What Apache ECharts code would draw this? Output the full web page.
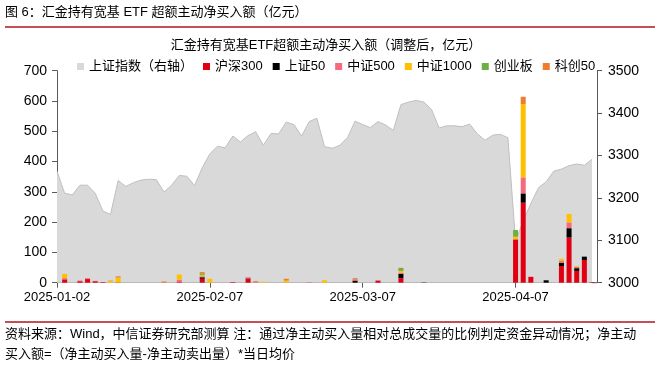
<!DOCTYPE html>
<html>
<head>
<meta charset="utf-8">
<script src="https://cdn.jsdelivr.net/npm/echarts@6/dist/echarts.min.js"></script>
<style>html,body{margin:0;padding:0;background:#fff;}#c{width:659px;height:367px;}</style>
</head>
<body>
<div id="c"></div>
<script>
// Trading-day categories
var dates = [
'2025-01-02','2025-01-03','2025-01-06','2025-01-07','2025-01-08','2025-01-09','2025-01-10',
'2025-01-13','2025-01-14','2025-01-15','2025-01-16','2025-01-17',
'2025-01-20','2025-01-21','2025-01-22','2025-01-23','2025-01-24',
'2025-01-27','2025-02-05','2025-02-06','2025-02-07',
'2025-02-10','2025-02-11','2025-02-12','2025-02-13','2025-02-14',
'2025-02-17','2025-02-18','2025-02-19','2025-02-20','2025-02-21',
'2025-02-24','2025-02-25','2025-02-26','2025-02-27','2025-02-28',
'2025-03-03','2025-03-04','2025-03-05','2025-03-06','2025-03-07',
'2025-03-10','2025-03-11','2025-03-12','2025-03-13','2025-03-14',
'2025-03-17','2025-03-18','2025-03-19','2025-03-20','2025-03-21',
'2025-03-24','2025-03-25','2025-03-26','2025-03-27','2025-03-28',
'2025-03-31','2025-04-01','2025-04-02','2025-04-03','2025-04-07',
'2025-04-08','2025-04-09','2025-04-10','2025-04-11',
'2025-04-14','2025-04-15','2025-04-16','2025-04-17','2025-04-18',
'2025-04-21'
];
// 上证指数 (right axis)
var sse = [
3263,3211,3207,3230,3230,3211,3169,
3161,3241,3227,3236,3242,
3244,3243,3214,3230,3253,
3251,3229,3271,3304,
3322,3318,3346,3332,3347,
3356,3324,3352,3351,3379,
3373,3346,3380,3388,3321,
3317,3324,3342,3381,3373,
3366,3380,3372,3359,3420,
3426,3430,3426,3409,3365,
3370,3370,3368,3374,3351,
3336,3348,3350,3342,3097,
3146,3187,3224,3238,
3263,3268,3276,3280,3277,
3291
];
// 沪深300
var hs300 = [
0,11,0,5,12,5,2,
0,1,0,0,0,
0,0,0,0,2,
0,0,13,0,
0,0,2,0,12,
0,0,0,0,0,
0,0,0,0,0,
0,0,0,0,0,
0,7,0,0,15,
0,0,0,0,0,
0,0,0,0,0,
0,0,0,0,143,
264,19,0,0,
0,55,149,39,75,
2
];
// 上证50
var sz50 = [
0,0,0,0,0,0,0,
0,0,0,0,0,
0,0,0,0,0,
0,0,5,0,
0,0,0,0,2,
0,0,0,0,0,
0,0,0,0,0,
0,0,0,7,0,
0,0,0,0,14,
0,0,1,0,0,
0,0,0,0,0,
0,0,0,0,0,
31,0,0,8,
0,11,31,9,11,
0
];
// 中证500
var zz500 = [
0,4,0,2,3,1,0,
0,0,0,0,0,
0,0,0,0,8,
0,0,3,0,
0,0,0,0,4,
2,0,0,0,0,
0,0,2,0,0,
0,0,0,4,0,
0,0,0,0,4,
0,0,0,0,0,
0,0,0,0,0,
0,0,0,0,0,
53,1,0,0,
0,6,19,4,0,
0
];
// 中证1000
var zz1000 = [
0,14,0,0,0,0,0,
6,16,0,0,0,
0,0,0,0,17,
0,0,5,13,
0,0,0,0,0,
0,3,0,0,7,
0,0,0,0,8,
0,0,0,0,0,
0,0,0,0,6,
0,0,0,0,0,
0,0,0,0,0,
0,0,0,0,9,
242,0,0,0,
0,7,28,3,0,
0
];
// 创业板
var cyb = [
0,0,0,0,0,0,0,
0,0,0,0,0,
0,0,0,0,0,
0,0,5,0,
0,0,0,0,0,
0,0,0,0,0,
0,0,0,0,0,
0,0,0,0,0,
0,0,0,0,10,
0,0,0,0,0,
0,0,0,0,0,
0,0,0,0,22,
0,0,0,0,
0,0,0,0,0,
0
];
// 科创50
var kc50 = [
0,0,0,0,0,0,0,
1,4,0,0,0,
0,0,4,0,0,
0,0,4,0,
0,0,0,0,0,
3,0,0,0,6,
0,0,0,0,0,
0,0,0,4,0,
0,0,0,0,0,
0,0,0,0,0,
0,0,0,0,0,
0,0,0,0,0,
24,0,0,0,
0,0,0,0,0,
0
];
var leftTicks = {min:0, max:700, interval:100};
var rightTicks = {min:3000, max:3500, interval:100};

var FONT = '"Liberation Sans","Noto Sans CJK SC",sans-serif';
var barNames = ['沪深300','上证50','中证500','中证1000','创业板','科创50'];
var barData = [hs300, sz50, zz500, zz1000, cyb, kc50];
var barColors = ['#E00012','#000000','#F56A7C','#FFC000','#70AD47','#ED7D31'];

var series = [{
  name:'上证指数（右轴）', type:'line', yAxisIndex:1, data:sse, symbol:'none',
  lineStyle:{color:'#BFBFBF', width:1}, itemStyle:{color:'#D9D9D9'},
  areaStyle:{color:'#D9D9D9', opacity:1, origin:'start'}, z:1, silent:true
}];
barNames.forEach(function(n,i){
  series.push({name:n, type:'bar', stack:'t', yAxisIndex:0, data:barData[i], barWidth:5,
    itemStyle:{color:barColors[i]}, z:3});
});

var axisStyle = {lineStyle:{color:'#595959', width:1}};
var chart = echarts.init(document.getElementById('c'));
chart.setOption({
  animation:false,
  textStyle:{fontFamily:FONT},
  grid:{left:57, right:67, top:70.7, bottom:84.3},
  legend:{
    data:['上证指数（右轴）'].concat(barNames), left:72, top:55, icon:'rect',
    itemWidth:7, itemHeight:7, itemGap:10,
    textStyle:{fontSize:13, color:'#000', fontFamily:FONT}
  },
  xAxis:{
    type:'category', data:dates, boundaryGap:false,
    axisLine:axisStyle,
    axisTick:{interval:19, length:5, lineStyle:{color:'#595959'}},
    axisLabel:{interval:19, fontSize:13, color:'#000', margin:8, fontFamily:FONT}
  },
  yAxis:[{
    type:'value', position:'left', min:leftTicks.min, max:leftTicks.max, interval:leftTicks.interval,
    axisLine:{show:true, lineStyle:{color:'#595959'}}, axisTick:{show:true, length:5, lineStyle:{color:'#595959'}},
    splitLine:{show:false}, axisLabel:{fontSize:14, color:'#000', margin:10, fontFamily:FONT}
  },{
    type:'value', position:'right', offset:5, min:rightTicks.min, max:rightTicks.max, interval:rightTicks.interval,
    axisLine:{show:true, lineStyle:{color:'#595959'}}, axisTick:{show:true, length:5, lineStyle:{color:'#595959'}},
    splitLine:{show:false}, axisLabel:{fontSize:14, color:'#000', margin:11, fontFamily:FONT,
      formatter:function(v){return String(v);}}
  }],
  graphic:[
    {type:'text', left:5, top:6, style:{text:'图 6：汇金持有宽基 ETF 超额主动净买入额（亿元）', font:'13px '+FONT, fill:'#000'}},
    {type:'line', shape:{x1:5,y1:27,x2:655,y2:27}, style:{stroke:'#B0161E', lineWidth:1.5}},
    {type:'text', x:326, y:45, style:{text:'汇金持有宽基ETF超额主动净买入额（调整后，亿元）', font:'13px '+FONT, fill:'#000', textAlign:'center', textVerticalAlign:'middle'}},
    {type:'line', shape:{x1:592,y1:282.7,x2:597,y2:282.7}, style:{stroke:'#595959', lineWidth:1}},
    {type:'line', shape:{x1:5,y1:322,x2:655,y2:322}, style:{stroke:'#B0161E', lineWidth:1.5}},
    {type:'text', x:5, y:334, style:{text:'资料来源：Wind，中信证券研究部测算 注：通过净主动买入量相对总成交量的比例判定资金异动情况；净主动', font:'13px '+FONT, fill:'#000', textVerticalAlign:'middle'}},
    {type:'text', x:5, y:354, style:{text:'买入额=（净主动买入量-净主动卖出量）*当日均价', font:'13px '+FONT, fill:'#000', textVerticalAlign:'middle'}}
  ],
  series:series
});
</script>
</body>
</html>
